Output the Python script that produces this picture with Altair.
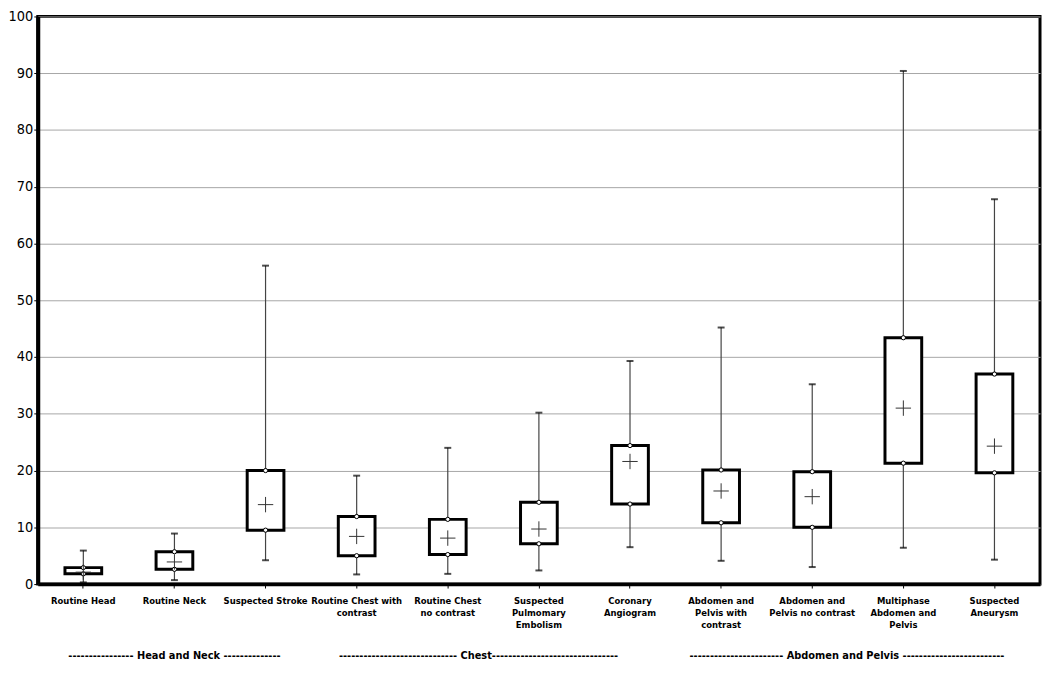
import altair as alt
import pandas as pd

# ---- data ----
categories = [
    "Routine Head", "Routine Neck", "Suspected Stroke",
    "Routine Chest with|contrast", "Routine Chest|no contrast",
    "Suspected|Pulmomary|Embolism", "Coronary|Angiogram",
    "Abdomen and|Pelvis with|contrast", "Abdomen and|Pelvis no contrast",
    "Multiphase|Abdomen and|Pelvis", "Suspected|Aneurysm",
]
whisker_low = [0.3, 0.7, 4.2, 1.7, 1.8, 2.4, 6.5, 4.1, 3.0, 6.4, 4.3]
q1 = [1.8, 2.6, 9.5, 5.0, 5.2, 7.1, 14.1, 10.8, 10.0, 21.3, 19.6]
q3 = [2.9, 5.7, 20.0, 11.9, 11.4, 14.4, 24.4, 20.1, 19.8, 43.4, 37.0]
whisker_high = [5.9, 8.9, 56.1, 19.1, 24.0, 30.2, 39.3, 45.2, 35.2, 90.4, 67.8]
means = [2.1, 3.9, 14.0, 8.4, 8.1, 9.7, 21.6, 16.4, 15.4, 31.0, 24.3]

group_labels = [
    "---------------- Head and Neck --------------",
    "----------------------------- Chest-------------------------------",
    "----------------------- Abdomen and Pelvis -------------------------",
]
group_anchor = ["Routine Neck", "Routine Chest|no contrast", "Abdomen and|Pelvis no contrast"]
group_dx = [0, 31, 35]

y_ticks = list(range(0, 101, 10))

df = pd.DataFrame({
    "category": categories,
    "low": whisker_low,
    "q1": q1,
    "q3": q3,
    "high": whisker_high,
    "mean": means,
})

FONT = "DejaVu Sans Condensed"
W, H = 1010, 572

xscale = alt.Scale(domain=categories, paddingInner=0, paddingOuter=0)
x = alt.X("category:N", scale=xscale, sort=categories, title=None,
          axis=alt.Axis(labelAngle=0, labelExpr="split(datum.label, '|')",
                        labelFont=FONT, labelFontWeight="bold", labelFontSize=9.5,
                        labelLineHeight=12, labelColor="black", labelPadding=8,
                        domainColor="black", domainWidth=3.5, tickColor="black",
                        tickSize=4, tickWidth=1, grid=False, labelLimit=200))
yscale = alt.Scale(domain=[0, 100], nice=False, zero=True)
yaxis = alt.Axis(values=y_ticks, grid=True, gridColor="#a6a6a6", gridWidth=1,
                 labelFont=FONT, labelFontSize=14.5, labelColor="black",
                 labelPadding=1, domainColor="black", domainWidth=4,
                 tickColor="black", tickSize=4, tickWidth=1, title=None)

base = alt.Chart(df)

whiskers = base.mark_rule(color="#444444", strokeWidth=1.2).encode(
    x=x, y=alt.Y("low:Q", scale=yscale, axis=yaxis), y2="high:Q")
caps_low = base.mark_tick(color="black", size=7, thickness=2).encode(
    x=x, y=alt.Y("low:Q", scale=yscale))
caps_high = base.mark_tick(color="black", size=7, thickness=2).encode(
    x=x, y=alt.Y("high:Q", scale=yscale))
boxes = base.mark_bar(fill="white", stroke="black", strokeWidth=3, size=37).encode(
    x=x, y=alt.Y("q1:Q", scale=yscale), y2="q3:Q")
pt_q1 = base.mark_point(shape="circle", size=18, filled=True, fill="white",
                        stroke="black", strokeWidth=1, opacity=1).encode(
    x=x, y=alt.Y("q1:Q", scale=yscale))
pt_q3 = base.mark_point(shape="circle", size=18, filled=True, fill="white",
                        stroke="black", strokeWidth=1, opacity=1).encode(
    x=x, y=alt.Y("q3:Q", scale=yscale))
mean_pt = base.mark_point(shape="M-1,0L1,0M0,-1L0,1", size=240, filled=False,
                          stroke="#333333", strokeWidth=1, opacity=1).encode(
    x=x, y=alt.Y("mean:Q", scale=yscale))

group_layers = []
for lab, anc, off in zip(group_labels, group_anchor, group_dx):
    gdf = pd.DataFrame({"label": [lab], "category": [anc]})
    group_layers.append(
        alt.Chart(gdf).mark_text(font=FONT, fontWeight="bold", fontSize=11,
                                 color="black", baseline="middle", dx=off).encode(
            x=alt.X("category:N", scale=xscale, sort=categories),
            y=alt.value(H + 72),
            text="label:N",
        )
    )

chart = alt.layer(whiskers, boxes, caps_low, caps_high, pt_q1, pt_q3, mean_pt,
                  *group_layers).properties(
    width=W, height=H,
    padding={"left": 30, "top": 6, "right": 2, "bottom": 77},
    autosize="none",
    background="white",
).configure_view(stroke="black", strokeWidth=3)

chart.save("out.html", embed_options={"renderer": "svg", "actions": False})
